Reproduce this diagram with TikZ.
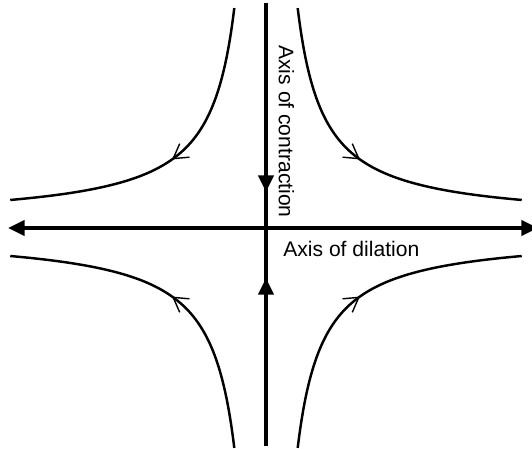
\documentclass[tikz,border=0pt]{standalone}
\usepackage{fontspec}
\setsansfont{Liberation Sans}
\usetikzlibrary{arrows.meta,decorations.markings}
\begin{document}
\begin{tikzpicture}[x=0.02cm,y=0.02cm,font=\sffamily\fontsize{12}{14}\selectfont,
	>={Triangle[length=9.5pt,width=8.5pt]},
	axis/.style={line width=2.7pt},
	flow/.style={line width=1.4pt,postaction={decorate},
		decoration={markings,mark=at position 0.5 with {\arrow{Straight Barb[length=8pt,width=9.5pt,line width=0.8pt]}}}},
	lbl/.style={inner sep=0pt}]
	\useasboundingbox (-266,-221) rectangle (266,228);
	\coordinate (w) at (-258,0);
	\coordinate (e) at (272,0);
	\coordinate (n) at (0,225);
	\coordinate (s) at (0,-218);
	\coordinate (dn0) at (0,53);
	\coordinate (dn1) at (0,36);
	\coordinate (up0) at (0,-65);
	\coordinate (up1) at (0,-50);
	\draw[axis,<->] (w) -- (e);
	\draw[axis] (n) -- (s);
	\draw[axis,->] (dn0) -- (dn1);
	\draw[axis,->] (up0) -- (up1);
	\foreach \sx/\sy in {1/1,-1/1,1/-1,-1/-1}
		\draw[flow,xscale=\sx,yscale=\sy] plot[variable=\t,domain=3.247:5.521,samples=80] ({6+exp(\t)},{6+5500/exp(\t)});
	\node[lbl,rotate=-90,anchor=base west] (contraction) at (13,183) {Axis of contraction};
	\node[lbl,anchor=base west] (dilation) at (17,-29) {Axis of dilation};
\end{tikzpicture}
\end{document}
